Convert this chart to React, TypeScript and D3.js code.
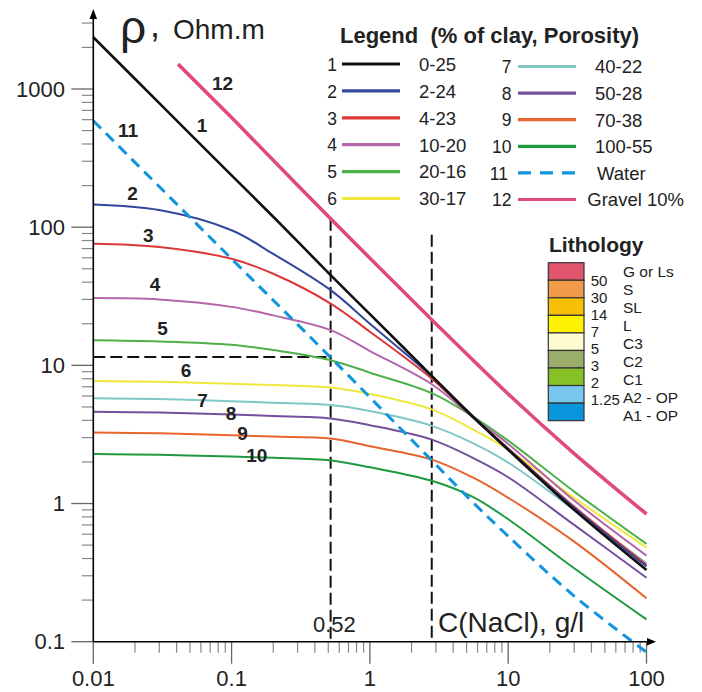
import React from "react";
import * as d3 from "d3";

// ---------- DATA ----------
const X_GRID = [0.01, 0.03, 0.1, 0.2, 0.52, 1, 2.8, 5.5, 10, 30, 100];
const rho1 = [2370, 790, 237, 119, 45, 23.5, 8.4, 4.3, 2.45, 0.9, 0.33];
const rho2 = [146, 133, 95, 64, 35, 20, 8.3, 4.25, 2.48, 0.93, 0.35];
const rho3 = [76, 72, 59, 46, 28, 17.5, 8.0, 4.25, 2.5, 0.95, 0.36];
const rho4 = [30.7, 30, 26.5, 23, 18, 12.7, 7.3, 4.25, 2.7, 1.05, 0.42];
const rho5 = [15.2, 14.9, 14.1, 12.9, 10.9, 8.85, 6.3, 4.3, 2.85, 1.22, 0.51];
const rho6 = [7.7, 7.6, 7.36, 7.2, 6.9, 6.2, 4.8, 3.45, 2.45, 1.1, 0.48];
const rho7 = [5.77, 5.7, 5.5, 5.36, 5.16, 4.67, 3.65, 2.75, 1.98, 0.9, 0.37];
const rho8 = [4.61, 4.55, 4.4, 4.3, 4.13, 3.69, 2.9, 2.15, 1.55, 0.7, 0.29];
const rho9 = [3.27, 3.22, 3.12, 3.05, 2.96, 2.6, 2.08, 1.55, 1.1, 0.53, 0.206];
const rho10 = [2.28, 2.25, 2.19, 2.14, 2.05, 1.83, 1.46, 1.12, 0.77, 0.34, 0.145];
const waterX = [0.01, 0.1, 0.52, 2.8, 5.5, 10, 30, 100];
const waterRho = [589, 59, 11.4, 2.05, 1.03, 0.58, 0.214, 0.084];
const gravelX = [0.041, 0.1, 0.52, 2.8, 10, 30, 100];
const gravelRho = [1514, 621, 115, 21.4, 6.2, 2.3, 0.84];

const legendIds = ["1", "2", "3", "4", "5", "6", "7", "8", "9", "10", "11", "12"];
const legendLabels = ["0-25", "2-24", "4-23", "10-20", "20-16", "30-17", "40-22", "50-28", "70-38", "100-55", "Water", "Gravel 10%"];
const seriesColors = ["#111111", "#34469a", "#de3636", "#b466a8", "#4fb04a", "#efe83c", "#7fc8c6", "#74509c", "#e8642e", "#1f9a3f", "#1195dd", "#e04a82"];

const xTickValues = [0.01, 0.1, 1, 10, 100];
const xTickLabels = ["0.01", "0.1", "1", "10", "100"];
const yTickValues = [0.1, 1, 10, 100, 1000];
const yTickLabels = ["0.1", "1", "10", "100", "1000"];

const refVertX = [0.52, 2.8];
const refVertTop = [115, 88];
const refHorizY = 11.5;

const lithoNames = ["G or Ls", "S", "SL", "L", "C3", "C2", "C1", "A2 - OP", "A1 - OP"];
const lithoColors = ["#e2566d", "#f09a4a", "#f7bf06", "#fff200", "#fffbd0", "#9bad6a", "#86c226", "#79c6ef", "#0895db"];
const lithoBounds = ["50", "30", "14", "7", "5", "3", "2", "1.25"];

// ---------- LAYOUT ----------
const W = 702, H = 692;
const FONT = "'Liberation Sans', Arial, Helvetica, sans-serif";
const x = d3.scaleLog().domain([0.01, 100]).range([93.3, 646.5]);
const y = d3.scaleLog().domain([0.1, 1000]).range([641.7, 89]);
const AX_Y = y(0.1);
const AX_X = x(0.01);

const curveLabels: [string, number, number][] = [
  ["12", 222.5, 90], ["1", 202, 131.7], ["11", 128, 137.3], ["2", 132.5, 200],
  ["3", 148.3, 241.7], ["4", 155, 290.7], ["5", 162.5, 335], ["6", 186, 377.3],
  ["7", 202.5, 406.7], ["8", 231, 420], ["9", 242.5, 440], ["10", 256.7, 461.7],
];

export default function App() {
  const line = d3
    .line<[number, number]>()
    .x((d) => x(d[0]))
    .y((d) => y(d[1]))
    .curve(d3.curveCatmullRom.alpha(0.5));

  const clayCurves = [rho1, rho2, rho3, rho4, rho5, rho6, rho7, rho8, rho9, rho10];
  const pathFor = (xs: number[], ys: number[]) =>
    line(xs.map((v, i) => [v, ys[i]] as [number, number])) || "";

  const drawOrder = [9, 8, 7, 6, 5, 4, 3, 2, 1, 0];

  const yMinor: number[] = [];
  for (let d = -1; d <= 3; d++)
    for (let k = 2; k <= 9; k++) {
      const v = k * Math.pow(10, d);
      if (v <= 3000) yMinor.push(v);
    }
  const xMinor: number[] = [];
  for (let d = -2; d <= 1; d++) for (let k = 2; k <= 9; k++) xMinor.push(k * Math.pow(10, d));

  const legLeftX = 342, legLeftX2 = 400, legRightX = 518, legRightX2 = 576;
  const boxTop = 262.7, boxH = 17.55, boxX = 548.3, boxW = 35.7;

  return (
    <svg
      width={W}
      height={H}
      style={{ position: "absolute", left: 0, top: 0, background: "#fff" }}
      fontFamily={FONT}
    >
      <rect x={0} y={0} width={W} height={H} fill="#fff" />

      {/* minor ticks */}
      {yMinor.map((v, i) => (
        <line key={"ym" + i} x1={AX_X - 11.5} x2={AX_X} y1={y(v)} y2={y(v)} stroke="#888" strokeWidth={1.2} />
      ))}
      {xMinor.map((v, i) => (
        <line key={"xm" + i} x1={x(v)} x2={x(v)} y1={AX_Y} y2={AX_Y + 11} stroke="#888" strokeWidth={1.2} />
      ))}
      {yTickValues.map((v, i) => (
        <g key={"yt" + i}>
          <line x1={AX_X - 22} x2={AX_X} y1={y(v)} y2={y(v)} stroke="#666" strokeWidth={1.3} />
          <text x={65} y={y(v) + 7.7} fontSize={22} textAnchor="end" fill="#222">
            {yTickLabels[i]}
          </text>
        </g>
      ))}
      {xTickValues.map((v, i) => (
        <g key={"xt" + i}>
          <line x1={x(v)} x2={x(v)} y1={AX_Y} y2={AX_Y + 22} stroke="#666" strokeWidth={1.3} />
          <text x={x(v)} y={686} fontSize={22} textAnchor="middle" fill="#222">
            {xTickLabels[i]}
          </text>
        </g>
      ))}

      {/* reference dashed lines */}
      {refVertX.map((v, i) => (
        <line key={"rv" + i} x1={x(v)} x2={x(v)} y1={y(refVertTop[i])} y2={AX_Y} stroke="#111" strokeWidth={2} strokeDasharray="12,5" />
      ))}
      <line x1={AX_X} x2={x(refVertX[0])} y1={y(refHorizY)} y2={y(refHorizY)} stroke="#111" strokeWidth={2} strokeDasharray="12,5" />

      {/* curves */}
      {drawOrder.map((i) => (
        <path
          key={"c" + i}
          d={pathFor(X_GRID, clayCurves[i])}
          fill="none"
          stroke={seriesColors[i]}
          strokeWidth={i === 0 ? 2.6 : 2}
        />
      ))}
      <path d={pathFor(waterX, waterRho)} fill="none" stroke={seriesColors[10]} strokeWidth={3} strokeDasharray="11,7" />
      <path d={pathFor(gravelX, gravelRho)} fill="none" stroke={seriesColors[11]} strokeWidth={3.6} />

      {/* axes */}
      <line x1={AX_X} x2={AX_X} y1={AX_Y} y2={16} stroke="#000" strokeWidth={1.6} />
      <path d={`M${AX_X - 3.8},${19} L${AX_X},${9} L${AX_X + 3.8},${19} Z`} fill="#000" />
      <line x1={AX_X} x2={650} y1={AX_Y} y2={AX_Y} stroke="#000" strokeWidth={1.6} />
      <path d={`M${647},${AX_Y - 3.8} L${656},${AX_Y} L${647},${AX_Y + 3.8} Z`} fill="#000" />

      {/* axis titles */}
      <text x={120} y={43} fontSize={46} fill="#222">ρ</text>
      <text x={150} y={37} fontSize={36} fill="#222">,</text>
      <text x={173} y={39.3} fontSize={28} fill="#222">Ohm.m</text>
      <text x={313} y={631.7} fontSize={22} fill="#222">0.52</text>
      <text x={438} y={632} fontSize={28} fill="#222">C(NaCl), g/l</text>

      {/* curve number labels */}
      {curveLabels.map(([t, lx, ly], i) => (
        <text key={"cl" + i} x={lx} y={ly} fontSize={19} fontWeight="bold" textAnchor="middle" fill="#222">
          {t}
        </text>
      ))}

      {/* legend */}
      <text x={340} y={43.3} fontSize={22} fontWeight="bold" fill="#222">
        {"Legend\u00a0\u00a0(% of clay, Porosity)"}
      </text>
      {legendIds.map((id, i) => {
        const left = i < 6;
        const row = left ? i : i - 6;
        const ly = left ? 64 + row * 26.9 : 66.5 + row * 26.6;
        const lx1 = left ? legLeftX : legRightX;
        const lx2 = left ? legLeftX2 : legRightX2;
        const numX = left ? 337 : id === "11" ? 508 : 511.5;
        let labX = left ? 419 : 595;
        if (id === "12") labX = 587.3;
        if (id === "11") labX = 597;
        return (
          <g key={"lg" + i}>
            <text x={numX} y={ly + 6.7} fontSize={17.5} textAnchor="end" fill="#222">{id}</text>
            <line
              x1={lx1}
              x2={lx2}
              y1={ly}
              y2={ly}
              stroke={seriesColors[i]}
              strokeWidth={3.2}
              strokeDasharray={id === "11" ? "13,9" : undefined}
            />
            <text x={labX} y={ly + 6.8} fontSize={18.5} fill="#222">{legendLabels[i]}</text>
          </g>
        );
      })}

      {/* lithology legend */}
      <text x={549} y={252} fontSize={21} fontWeight="bold" fill="#222">Lithology</text>
      {lithoColors.map((c, i) => (
        <rect key={"lb" + i} x={boxX} y={boxTop + i * boxH} width={boxW} height={boxH} fill={c} stroke="#333" strokeWidth={1.2} />
      ))}
      {lithoBounds.map((b, i) => (
        <text key={"lbn" + i} x={590.7} y={286 + i * 17} fontSize={15} fill="#222">{b}</text>
      ))}
      {lithoNames.map((n, i) => (
        <text key={"lbt" + i} x={623} y={276.7 + i * 18} fontSize={15.5} fill="#222">{n}</text>
      ))}
    </svg>
  );
}
